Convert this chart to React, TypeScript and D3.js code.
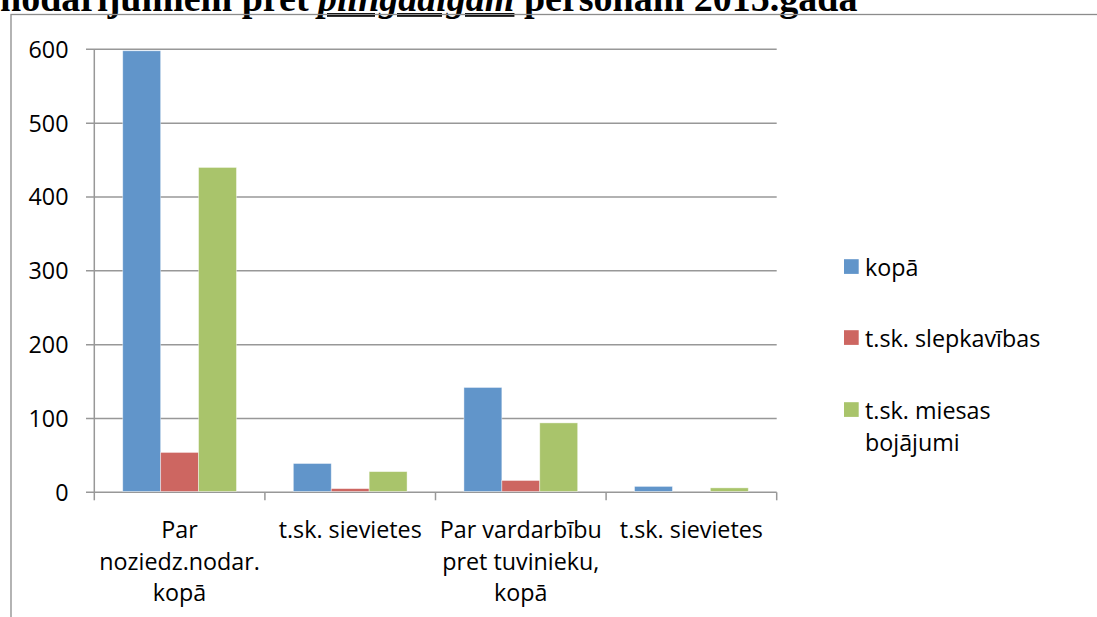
import React from "react";
import * as d3 from "d3";

const categories: string[][] = [
  ["Par", "noziedz.nodar.", "kopā"],
  ["t.sk. sievietes"],
  ["Par vardarbību", "pret tuvinieku,", "kopā"],
  ["t.sk. sievietes"],
];
const seriesNames = ["kopā", "t.sk. slepkavības", "t.sk. miesas bojājumi"];
const legendLines: string[][] = [["kopā"], ["t.sk. slepkavības"], ["t.sk. miesas", "bojājumi"]];
const kopa = [598, 39, 142, 8];
const slepkavibas = [54, 5, 16, 0];
const miesas = [440, 28, 94, 6];
const yTicks = [0, 100, 200, 300, 400, 500, 600];
const colors = ["#6195CA", "#CD6661", "#A9C46B"];

const W = 1097;
const H = 617;
const FONT = "'Open Sans', 'Noto Sans', sans-serif";
const FS = 23.3;

export default function App() {
  const series = [kopa, slepkavibas, miesas];
  const x0 = 94.3;
  const x1 = 776.7;
  const y = d3.scaleLinear().domain([0, 600]).range([492.3, 49.3]);
  const xBand = d3
    .scaleBand<number>()
    .domain(d3.range(categories.length))
    .range([x0, x1])
    .paddingInner(0)
    .paddingOuter(0);
  const bw = xBand.bandwidth();
  const barW = bw / 4.5;
  const xInner = d3
    .scaleBand<number>()
    .domain(d3.range(series.length))
    .range([bw / 2 - 1.5 * barW, bw / 2 + 1.5 * barW]);

  const grid = "#989898";
  const legendY = [266.5, 337.5, 409.5];

  return (
    <svg
      width={W}
      height={H}
      style={{ position: "absolute", left: 0, top: 0, background: "#fff" }}
    >
      {/* title (cut off at top, as in the source) */}
      <text
        x={0}
        y={11}
        fontFamily="'Liberation Serif', 'Times New Roman', serif"
        fontWeight="bold"
        fontSize={38}
        fill="#000"
      >
        <tspan>nodarījumiem pret </tspan>
        <tspan fontStyle="italic" textDecoration="underline">pilngadīgām</tspan>
        <tspan> personām 2015.gadā</tspan>
      </text>
      {/* chart frame */}
      <rect x={11} y={14.5} width={W + 20} height={H + 20} fill="none" stroke="#8c8c8c" strokeWidth={1.3} />

      {/* gridlines and y ticks */}
      {yTicks.map((t) => (
        <g key={t}>
          <line x1={86} x2={x1} y1={y(t)} y2={y(t)} stroke={grid} strokeWidth={1.5} />
          <text
            x={68.5}
            y={y(t) + 8.5}
            textAnchor="end"
            fontFamily={FONT}
            fontSize={FS}
            fill="#000"
          >
            {t}
          </text>
        </g>
      ))}
      {/* y axis */}
      <line x1={x0} x2={x0} y1={y(600)} y2={y(0)} stroke={grid} strokeWidth={1.5} />
      {/* category ticks */}
      {d3.range(categories.length + 1).map((i) => {
        const xx = x0 + i * bw;
        return <line key={i} x1={xx} x2={xx} y1={y(0)} y2={y(0) + 8} stroke={grid} strokeWidth={1.5} />;
      })}

      {/* bars */}
      {series.map((vals, si) =>
        vals.map((v, ci) => {
          const bx = (xBand(ci) ?? 0) + (xInner(si) ?? 0);
          const top = y(v);
          const h = y(0) - top;
          if (h <= 0) return null;
          return (
            <rect
              key={`${si}-${ci}`}
              x={bx}
              y={top}
              width={barW}
              height={h - 0.8}
              fill={colors[si]}
              stroke="#ffffff"
              strokeOpacity={0.5}
              strokeWidth={0.8}
            />
          );
        })
      )}

      {/* category labels */}
      {categories.map((lines, ci) => (
        <text
          key={ci}
          textAnchor="middle"
          fontFamily={FONT}
          fontSize={FS}
          fill="#000"
        >
          {lines.map((l, li) => (
            <tspan key={li} x={(xBand(ci) ?? 0) + bw / 2} y={538 + li * 31.7}>
              {l}
            </tspan>
          ))}
        </text>
      ))}

      {/* legend */}
      {seriesNames.map((name, si) => (
        <g key={name}>
          <rect x={844} y={legendY[si] - 7.3} width={14.7} height={14.7} fill={colors[si]} />
          <text fontFamily={FONT} fontSize={FS} fill="#000">
            {legendLines[si].map((l, li) => (
              <tspan key={li} x={865} y={legendY[si] + 9.5 + li * 31.5}>
                {l}
              </tspan>
            ))}
          </text>
        </g>
      ))}
    </svg>
  );
}
